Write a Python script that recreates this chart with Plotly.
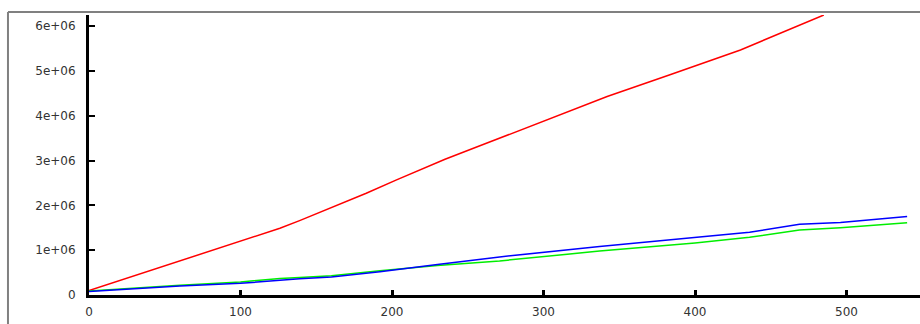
import plotly.graph_objects as go

# Series readings (x, value)
red_x = [0, 60, 103, 126, 139, 159, 172, 183, 203, 235, 258, 300, 342, 383, 430, 485]
red_y = [0.10e6, 0.76e6, 1.22e6, 1.49e6, 1.66e6, 1.93e6, 2.12e6, 2.27e6, 2.57e6,
         3.03e6, 3.33e6, 3.88e6, 4.43e6, 4.91e6, 5.47e6, 6.25e6]

blue_x = [0, 25, 60, 100, 126, 139, 160, 192, 230, 271, 337, 400, 436, 469, 496, 540]
blue_y = [0.08e6, 0.13e6, 0.20e6, 0.26e6, 0.33e6, 0.36e6, 0.40e6, 0.52e6, 0.68e6,
          0.85e6, 1.08e6, 1.28e6, 1.40e6, 1.58e6, 1.62e6, 1.75e6]

green_x = [0, 26, 60, 100, 126, 139, 160, 192, 230, 271, 337, 400, 436, 469, 496, 540]
green_y = [0.09e6, 0.15e6, 0.22e6, 0.29e6, 0.37e6, 0.39e6, 0.43e6, 0.54e6, 0.66e6,
           0.76e6, 0.98e6, 1.16e6, 1.29e6, 1.45e6, 1.50e6, 1.61e6]

x_ticks = [0, 100, 200, 300, 400, 500]
y_ticks = [0, 1e6, 2e6, 3e6, 4e6, 5e6, 6e6]
y_labels = ["0", "1e+06", "2e+06", "3e+06", "4e+06", "5e+06", "6e+06"]

fig = go.Figure()
fig.add_trace(go.Scatter(x=red_x, y=red_y, mode="lines",
                         line=dict(color="#ff0000", width=1.5)))
fig.add_trace(go.Scatter(x=green_x, y=green_y, mode="lines",
                         line=dict(color="#00ee00", width=1.5)))
fig.add_trace(go.Scatter(x=blue_x, y=blue_y, mode="lines",
                         line=dict(color="#0000ff", width=1.5)))

tick_font = dict(family="DejaVu Sans", size=12, color="#333333")

fig.update_layout(
    width=920, height=324,
    margin=dict(l=89, r=0, t=15, b=29),
    paper_bgcolor="white", plot_bgcolor="white",
    showlegend=False,
    xaxis=dict(
        range=[0, 548.5], tickvals=x_ticks, ticktext=[str(v) for v in x_ticks],
        showgrid=False, zeroline=False,
        showline=True, linecolor="#000000", linewidth=3,
        ticks="inside", ticklen=5, tickwidth=3, tickcolor="#000000",
        tickfont=tick_font, ticklabelstandoff=4,
    ),
    yaxis=dict(
        range=[0, 6.25e6], tickvals=y_ticks, ticktext=y_labels,
        showgrid=False, zeroline=False,
        showline=True, linecolor="#000000", linewidth=3,
        ticks="inside", ticklen=6, tickwidth=2, tickcolor="#000000",
        tickfont=tick_font, ticklabelstandoff=8,
    ),
    shapes=[
        # outer gray frame
        dict(type="line", xref="paper", yref="paper",
             x0=-0.0975, x1=1.1, y0=1.0107, y1=1.0107,
             line=dict(color="#808080", width=2)),
        dict(type="line", xref="paper", yref="paper",
             x0=-0.0975, x1=-0.0975, y0=1.0107, y1=-0.2,
             line=dict(color="#808080", width=2)),
    ],
)

fig.write_html("out.html")
